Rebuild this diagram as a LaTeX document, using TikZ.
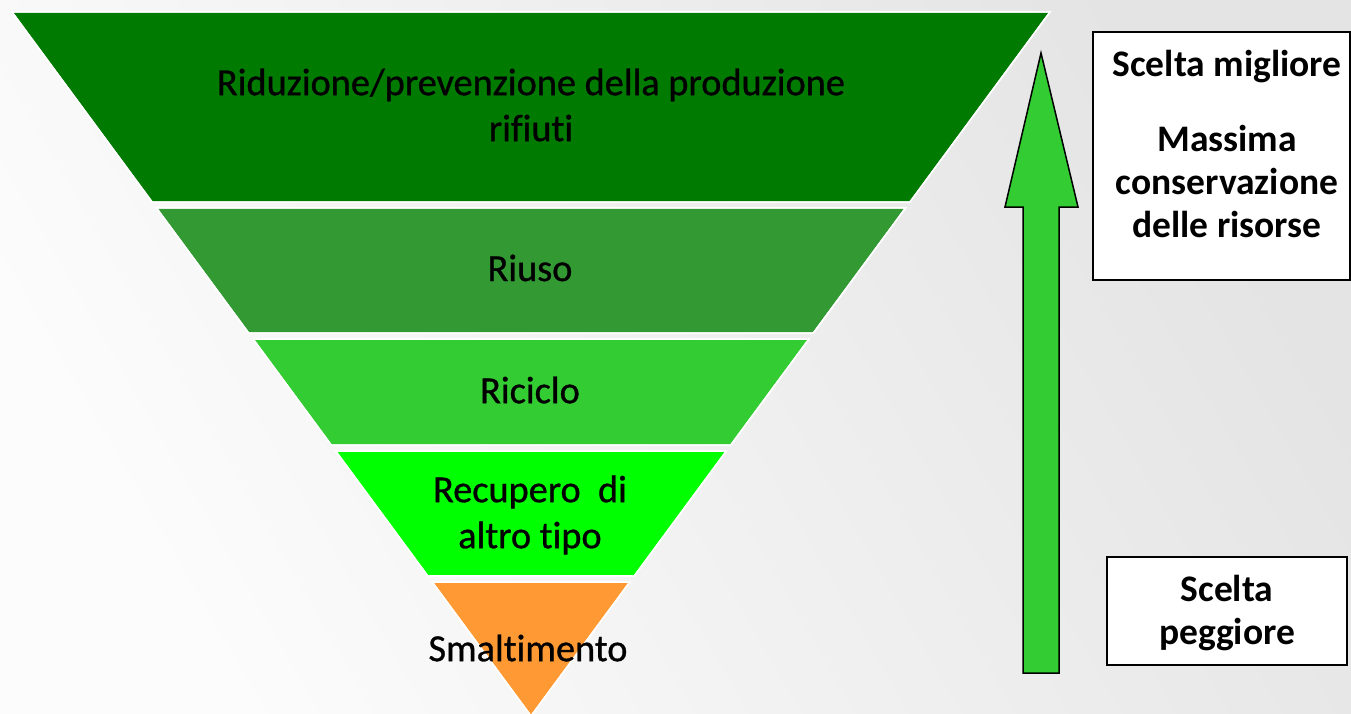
\documentclass[tikz,border=0pt]{standalone}
\usepackage{fontspec}
\setmainfont{Carlito}[Ligatures=NoCommon]
\newfontfamily\bandfont{Carlito}[Ligatures=NoCommon,FakeBold=0.8]
\usetikzlibrary{calc}
\definecolor{gA}{RGB}{0,122,0}
\definecolor{gB}{RGB}{51,153,51}
\definecolor{gC}{RGB}{51,204,51}
\definecolor{gD}{RGB}{0,255,0}
\definecolor{oE}{RGB}{255,153,51}
\definecolor{bgL}{RGB}{252,252,252}
\definecolor{bgR}{RGB}{228,228,228}
\tikzset{
  band/.style={draw=white,line width=1.5pt},
  bandtext/.style={align=center,font=\bandfont\fontsize{38.3}{46}\selectfont,text=black,inner sep=0pt},
  boxtext/.style={align=center,font=\bfseries\fontsize{37.5}{43}\selectfont,text=black,inner sep=0pt},
  sidebox/.style={draw=black,fill=white,line width=1.2pt},
  bigarrow/.style={draw=black,fill=gC,line width=1.5pt,line join=miter}
}
\begin{document}
\begin{tikzpicture}[x=1pt,y=-1pt]
\useasboundingbox (0,0) rectangle (1351,714);
\shade[left color=bgL,right color=bgR,shading angle=120] (0,0) rectangle (1351,714);
\coordinate (TL) at (12,12);
\coordinate (TR) at (1050,12);
\coordinate (AP) at (531,716);
% bands
\fill[band,fill=gA] (TL) -- (TR) -- ($(TR)!0.2699!(AP)$) -- ($(TL)!0.2699!(AP)$) -- cycle;
\fill[band,fill=gB] ($(TL)!0.2784!(AP)$) -- ($(TR)!0.2784!(AP)$) -- ($(TR)!0.4560!(AP)$) -- ($(TL)!0.4560!(AP)$) -- cycle;
\fill[band,fill=gC] ($(TL)!0.4645!(AP)$) -- ($(TR)!0.4645!(AP)$) -- ($(TR)!0.6151!(AP)$) -- ($(TL)!0.6151!(AP)$) -- cycle;
\fill[band,fill=gD] ($(TL)!0.6236!(AP)$) -- ($(TR)!0.6236!(AP)$) -- ($(TR)!0.8011!(AP)$) -- ($(TL)!0.8011!(AP)$) -- cycle;
\fill[band,fill=oE] ($(TL)!0.8097!(AP)$) -- ($(TR)!0.8097!(AP)$) -- (AP) -- cycle;
\draw[band] (TL) -- (TR) -- ($(TR)!0.2699!(AP)$) -- ($(TL)!0.2699!(AP)$) -- cycle;
\draw[band] ($(TL)!0.2784!(AP)$) -- ($(TR)!0.2784!(AP)$) -- ($(TR)!0.4560!(AP)$) -- ($(TL)!0.4560!(AP)$) -- cycle;
\draw[band] ($(TL)!0.4645!(AP)$) -- ($(TR)!0.4645!(AP)$) -- ($(TR)!0.6151!(AP)$) -- ($(TL)!0.6151!(AP)$) -- cycle;
\draw[band] ($(TL)!0.6236!(AP)$) -- ($(TR)!0.6236!(AP)$) -- ($(TR)!0.8011!(AP)$) -- ($(TL)!0.8011!(AP)$) -- cycle;
\draw[band] ($(TL)!0.8097!(AP)$) -- ($(TR)!0.8097!(AP)$) -- (AP) -- cycle;
% band labels
\node[bandtext] (t1) at (531,105) {Riduzione/prevenzione della produzione\\rifiuti};
\node[bandtext] (t2) at (530,268) {Riuso};
\node[bandtext] (t3) at (530,390) {Riciclo};
\node[bandtext] (t4) at (530,515) {Recupero\ \ di\\altro tipo};
\node[bandtext] (t5) at (528,648) {Smaltimento};
% arrow
\draw[bigarrow] (1023,673) -- (1023,207) -- (1005,207) -- (1041,53) -- (1078,207) -- (1059,207) -- (1059,673) -- cycle;
% side boxes
\draw[sidebox] (1093,32) rectangle (1350,280);
\node[boxtext] (b1) at (1227,67) {Scelta migliore};
\node[boxtext] (b2) at (1227,181) {Massima\\conservazione\\delle risorse};
\draw[sidebox] (1107,557) rectangle (1347,665);
\node[boxtext] (b3) at (1227,613) {Scelta\\peggiore};
\end{tikzpicture}
\end{document}
